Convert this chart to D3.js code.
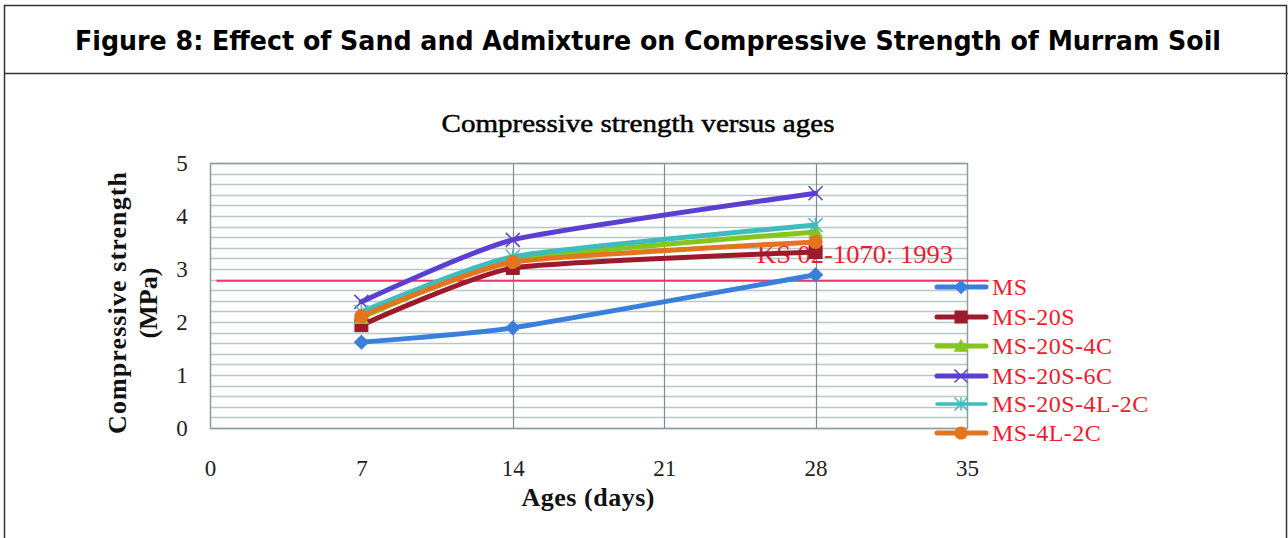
<!DOCTYPE html>
<html>
<head>
<meta charset="utf-8">
<script src="https://cdn.jsdelivr.net/npm/d3@7"></script>
<style>
  html, body { margin: 0; padding: 0; background: #fff; }
  svg { display: block; }
</style>
</head>
<body>
<svg width="1288" height="538"></svg>
<script>
(function() {
    const svg = d3.select('svg');

    // data
    const ages = [7, 14, 28];
    const seriesNames = ['MS', 'MS-20S', 'MS-20S-4C', 'MS-20S-6C', 'MS-20S-4L-2C', 'MS-4L-2C'];
    const msValues        = [1.62, 1.89, 2.89];
    const ms20sValues     = [1.94, 3.02, 3.32];
    const ms20s4cValues   = [2.08, 3.17, 3.70];
    const ms20s6cValues   = [2.38, 3.55, 4.43];
    const ms20s4l2cValues = [2.19, 3.23, 3.83];
    const ms4l2cValues    = [2.11, 3.13, 3.51];
    const xTicks = [0, 7, 14, 21, 28, 35];
    const yTicks = [0, 1, 2, 3, 4, 5];
    const ksLimit = 2.78;
    const ksLabel = 'KS 02-1070: 1993';

    const values = [msValues, ms20sValues, ms20s4cValues, ms20s6cValues, ms20s4l2cValues, ms4l2cValues];
    const colors = ['#3b7fdc', '#9c1a2c', '#84c51e', '#5a3fd0', '#40bcbc', '#e2751e'];
    const symbols = ['diamond', 'square', 'triangle', 'x', 'star', 'circle'];

    const series = seriesNames.map((name, i) => ({
        name: name,
        color: colors[i],
        symbol: symbols[i],
        points: ages.map((a, j) => ({ x: a, y: values[i][j] }))
    }));

    const left = 210, right = 967, top = 163, bottom = 428;

    const x = d3.scaleLinear().domain([0, 35]).range([left, right]);
    const y = d3.scaleLinear().domain([0, 5]).range([bottom, top]);

    const serif = 'Liberation Serif, Times New Roman, serif';

    // outer frame + header
    svg.append('rect')
        .attr('x', 4.5).attr('y', 5.5)
        .attr('width', 1282).attr('height', 560)
        .attr('fill', 'none')
        .attr('stroke', '#333')
        .attr('stroke-width', 1.5);
    svg.append('line')
        .attr('x1', 4).attr('x2', 1288)
        .attr('y1', 73.5).attr('y2', 73.5)
        .attr('stroke', '#333')
        .attr('stroke-width', 1.5);

    svg.append('text')
        .attr('x', 648).attr('y', 50)
        .attr('text-anchor', 'middle')
        .attr('font-family', 'DejaVu Sans Condensed, DejaVu Sans, sans-serif')
        .attr('font-weight', 'bold')
        .attr('font-size', 26)
        .attr('textLength', 1146)
        .attr('lengthAdjust', 'spacingAndGlyphs')
        .text('Figure 8: Effect of Sand and Admixture on Compressive Strength of Murram Soil');

    // chart title
    svg.append('text')
        .attr('x', 638).attr('y', 132)
        .attr('text-anchor', 'middle')
        .attr('font-family', serif)
        .attr('font-size', 26)
        .attr('fill', '#000')
        .attr('stroke', '#000')
        .attr('stroke-width', 0.5)
        .attr('textLength', 393)
        .attr('lengthAdjust', 'spacingAndGlyphs')
        .text('Compressive strength versus ages');

    // minor horizontal gridlines every 0.2
    const yGrid = d3.range(0, 5.0001, 0.2);
    svg.append('g')
        .selectAll('line')
        .data(yGrid)
        .enter()
        .append('line')
        .attr('x1', left).attr('x2', right)
        .attr('y1', d => Math.round(y(d)) + 0.5)
        .attr('y2', d => Math.round(y(d)) + 0.5)
        .attr('stroke', '#b9c6c8')
        .attr('stroke-width', 1.5);

    // vertical gridlines (only 14, 21, 28 are visible in the original)
    svg.append('g')
        .selectAll('line')
        .data(xTicks.filter(d => d > 7 && d < 35))
        .enter()
        .append('line')
        .attr('x1', d => Math.round(x(d)) + 0.5)
        .attr('x2', d => Math.round(x(d)) + 0.5)
        .attr('y1', top).attr('y2', bottom)
        .attr('stroke', '#7d8c8c')
        .attr('stroke-width', 1.2);

    // plot border
    svg.append('rect')
        .attr('x', left + 0.5).attr('y', top + 0.5)
        .attr('width', right - left).attr('height', bottom - top)
        .attr('fill', 'none')
        .attr('stroke', '#8e9c9c')
        .attr('stroke-width', 1.5);

    // axes (labels only)
    const xAxis = d3.axisBottom(x).tickValues(xTicks).tickSize(0).tickPadding(0).tickFormat(d3.format('d'));
    const gx = svg.append('g')
        .attr('transform', `translate(0, ${bottom})`)
        .call(xAxis);
    gx.select('.domain').remove();
    gx.selectAll('text')
        .attr('dy', 0)
        .attr('y', 48)
        .attr('font-family', serif)
        .attr('font-size', 23)
        .attr('fill', '#222');

    const yAxis = d3.axisLeft(y).tickValues(yTicks).tickSize(0).tickPadding(0).tickFormat(d3.format('d'));
    const gy = svg.append('g')
        .attr('transform', `translate(${left}, 0)`)
        .call(yAxis);
    gy.select('.domain').remove();
    gy.selectAll('text')
        .attr('x', -28)
        .attr('dy', '0.32em')
        .attr('text-anchor', 'middle')
        .attr('font-family', serif)
        .attr('font-size', 23)
        .attr('fill', '#222');

    // axis titles
    svg.append('text')
        .attr('x', 588).attr('y', 506)
        .attr('text-anchor', 'middle')
        .attr('font-family', serif)
        .attr('font-weight', 'bold')
        .attr('font-size', 26)
        .attr('fill', '#111')
        .attr('textLength', 133)
        .attr('lengthAdjust', 'spacing')
        .text('Ages (days)');

    const yTitle = svg.append('g')
        .attr('transform', 'translate(0, 303) rotate(-90)');
    yTitle.append('text')
        .attr('x', 0).attr('y', 126)
        .attr('text-anchor', 'middle')
        .attr('font-family', serif)
        .attr('font-weight', 'bold')
        .attr('font-size', 26)
        .attr('fill', '#111')
        .attr('textLength', 262)
        .attr('lengthAdjust', 'spacing')
        .text('Compressive strength');
    yTitle.append('text')
        .attr('x', 0).attr('y', 157)
        .attr('text-anchor', 'middle')
        .attr('font-family', serif)
        .attr('font-weight', 'bold')
        .attr('font-size', 26)
        .attr('fill', '#111')
        .text('(MPa)');

    // KS standard line + label
    svg.append('line')
        .attr('x1', x(0.3)).attr('x2', x(36))
        .attr('y1', y(ksLimit)).attr('y2', y(ksLimit))
        .attr('stroke', '#f0336b')
        .attr('stroke-width', 2);
    svg.append('text')
        .attr('x', 757).attr('y', 263)
        .attr('font-family', serif)
        .attr('font-size', 25)
        .attr('fill', '#ee1c2e')
        .attr('textLength', 196)
        .attr('lengthAdjust', 'spacingAndGlyphs')
        .text(ksLabel);

    // series
    const line = d3.line()
        .x(d => x(d.x))
        .y(d => y(d.y))
        .curve(d3.curveCardinal.tension(0.5));

    const symbolPath = (type, size) => {
        const s = size;
        if (type === 'diamond') return `M0,${-s * 0.55}L${s * 0.55},0L0,${s * 0.55}L${-s * 0.55},0Z`;
        if (type === 'square') return `M${-s / 2},${-s / 2}h${s}v${s}h${-s}Z`;
        if (type === 'triangle') return `M0,${-s * 0.55}L${s * 0.55},${s * 0.45}L${-s * 0.55},${s * 0.45}Z`;
        if (type === 'circle') return d3.symbol(d3.symbolCircle, s * s * 0.8)();
        if (type === 'x') return `M${-s / 2},${-s / 2}L${s / 2},${s / 2}M${s / 2},${-s / 2}L${-s / 2},${s / 2}`;
        // asterisk
        return `M${-s / 2},${-s / 2}L${s / 2},${s / 2}M${s / 2},${-s / 2}L${-s / 2},${s / 2}M0,${-s / 2}L0,${s / 2}`;
    };

    const drawMarker = (g, sr, cx, cy, size) => {
        const open = sr.symbol === 'x' || sr.symbol === 'star';
        g.append('path')
            .attr('transform', `translate(${cx}, ${cy})`)
            .attr('d', symbolPath(sr.symbol, size))
            .attr('fill', open ? 'none' : sr.color)
            .attr('stroke', sr.color)
            .attr('stroke-width', open ? 1.5 : 0);
    };

    const seriesG = svg.append('g');
    series.forEach(sr => {
        const g = seriesG.append('g');
        g.append('path')
            .datum(sr.points)
            .attr('d', line)
            .attr('fill', 'none')
            .attr('stroke', sr.color)
            .attr('stroke-width', 5)
            .attr('stroke-linecap', 'round');
        sr.points.forEach(p => drawMarker(g, sr, x(p.x), y(p.y), 14));
    });

    // legend
    const legend = svg.append('g');
    const legendY = [287, 317, 346, 376, 404, 433];
    series.forEach((sr, i) => {
        const g = legend.append('g').attr('transform', `translate(0, ${legendY[i]})`);
        g.append('line')
            .attr('x1', 937).attr('x2', 986)
            .attr('y1', 0).attr('y2', 0)
            .attr('stroke', sr.color)
            .attr('stroke-width', sr.symbol === 'star' ? 3.5 : 5)
            .attr('stroke-linecap', 'round');
        drawMarker(g, sr, 961, 0, 13);
        g.append('text')
            .attr('x', 992).attr('y', 8)
            .attr('font-family', serif)
            .attr('font-size', 24)
            .attr('fill', '#ee1c2e')
            .attr('letter-spacing', 0.5)
            .text(sr.name);
    });
})();
</script>
</body>
</html>
